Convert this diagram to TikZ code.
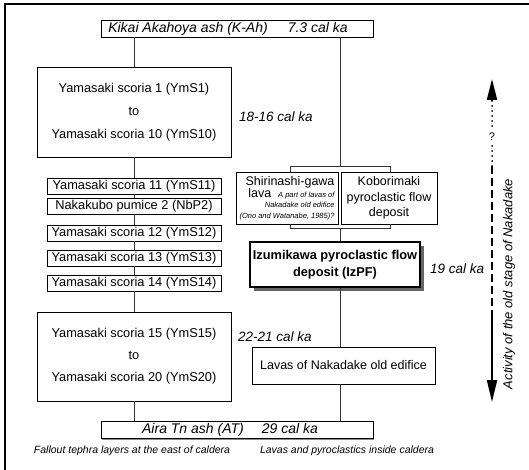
\documentclass[tikz,border=0pt]{standalone}
\usepackage{fontspec}
\setmainfont{Liberation Sans}
\usetikzlibrary{arrows.meta,shadows,calc}
\newcommand\smallnotefont{\fontsize{7.5}{9}\selectfont\itshape}
\tikzset{
  box/.style={draw, line width=0.8pt, fill=white, inner sep=0pt, align=center,
    font=\fontsize{12.5}{15}\selectfont,
    drop shadow={shadow xshift=1.3pt, shadow yshift=-1.3pt, fill=black!45, opacity=1}},
  ashbox/.style={box, minimum width=272pt, minimum height=17pt, font=\fontsize{14}{15}\selectfont\itshape},
  smallbox/.style={box, minimum width=174pt, minimum height=16pt, font=\fontsize{12.8}{15}\selectfont},
  bigbox/.style={box, minimum width=194pt, minimum height=90pt, font=\fontsize{12.8}{15}\selectfont},
  agelabel/.style={anchor=west, inner sep=0pt, font=\fontsize{13.5}{15}\selectfont\itshape},
  caption/.style={inner sep=0pt, font=\fontsize{10.5}{12}\selectfont\itshape},
  link/.style={line width=0.8pt, black!80},
  actline/.style={line width=2pt},
}
\begin{document}
\begin{tikzpicture}[x=1pt,y=-1pt]
\useasboundingbox (0,0) rectangle (529,470);
\fill[white] (0,0) rectangle (529,470);
% frame (left and top edges visible)
\draw[line width=2.6pt] (5,472) -- (5,4) -- (531,4);

% ash layers
\node[ashbox] (kah) at (237,28.5) {\hspace*{-1pt}Kikai Akahoya ash (K-Ah)\hspace{20pt}7.3 cal ka\hspace*{17pt}};
\node[ashbox] (aira) at (237,430) {Aira Tn ash (AT)\hspace{18pt}29 cal ka\hspace*{14pt}};

% left column
\node[bigbox] (ymA) at (134,112) {Yamasaki scoria 1 (YmS1)\\[8pt]to\\[8pt]Yamasaki scoria 10 (YmS10)};
\node[smallbox] (ym11) at (134,186) {Yamasaki scoria 11 (YmS11)};
\node[smallbox] (nb2) at (134,206) {Nakakubo pumice 2 (NbP2)};
\node[smallbox] (ym12) at (134,233) {Yamasaki scoria 12 (YmS12)};
\node[smallbox] (ym13) at (134,258) {Yamasaki scoria 13 (YmS13)};
\node[smallbox] (ym14) at (134,283) {Yamasaki scoria 14 (YmS14)};
\node[bigbox, minimum height=89pt] (ymB) at (134,356.5) {Yamasaki scoria 15 (YmS15)\\[7pt]to\\[7pt]Yamasaki scoria 20 (YmS20)};

\node[agelabel] (ageA) at (239,117) {18-16 cal ka};
\node[agelabel] (ageB) at (238,337) {22-21 cal ka};

\draw[link] (kah.south -| ymA.north) -- (ymA.north);
\draw[link] (ymA.south) -- (ym11.north);
\draw[link] (ym11.south) -- (nb2.north);
\draw[link] (nb2.south) -- (ym12.north);
\draw[link] (ym12.south) -- (ym13.north);
\draw[link] (ym13.south) -- (ym14.north);
\draw[link] (ym14.south) -- (ymB.north);
\draw[link] (ymB.south) -- (aira.north -| ymB.south);

% right column
\node[box, minimum width=102pt, minimum height=52pt, align=right, inner xsep=3pt,
      font=\fontsize{12.5}{12.5}\selectfont] (shi) at (287,198)
  {Shirinashi-gawa\\[-0.5pt]lava\ \ {\smallnotefont A part of lavas of}\\[-2pt]
   {\smallnotefont Nakadake old edifice}\\[-2pt]
   {\smallnotefont (Ono and Watanabe, 1985)?}};
\node[box, minimum width=96pt, minimum height=52pt, font=\fontsize{12.5}{15.5}\selectfont] (kob) at (389,198)
  {Koborimaki\\pyroclastic flow\\deposit};
\node[box, line width=2pt, minimum width=170pt, minimum height=45pt,
      font=\fontsize{12.8}{17}\selectfont\bfseries,
      drop shadow={shadow xshift=4pt, shadow yshift=-4pt, fill=black!60, opacity=1}] (izu) at (335,264.5)
  {Izumikawa pyroclastic flow\\deposit (IzPF)};
\node[agelabel] (ageC) at (430,269) {19 cal ka};
\node[box, minimum width=183pt, minimum height=37pt] (lav) at (343.5,365.5) {Lavas of Nakadake old edifice};

\coordinate (tl) at (290,166);
\coordinate (tr) at (390,166);
\coordinate (tc) at (340,166);
\coordinate (bl) at (290,228);
\coordinate (br) at (390,228);
\coordinate (bc) at (340,228);
\draw[link] (kah.south -| tc) -- (tc);
\draw[link] (shi.north -| tl) -- (tl) -- (tr) -- (kob.north -| tr);
\draw[link] (shi.south -| bl) -- (bl) -- (br) -- (kob.south -| br);
\draw[link] (bc) -- (izu.north -| bc);
\draw[link] (izu.south -| bc) -- (lav.north -| bc);
\draw[link] (lav.south -| bc) -- (aira.north -| bc);

% captions
\node[caption] (capL) at (132,451) {Fallout tephra layers at the east of caldera};
\node[caption] (capR) at (347,451) {Lavas and pyroclastics inside caldera};

% activity arrow
\coordinate (aTop) at (492,79);
\coordinate (aDot) at (492,101);
\coordinate (aQa) at (492,129);
\node[inner sep=0pt, font=\fontsize{11}{12}\selectfont] (q) at (492,137) {?};
\coordinate (aQb) at (492,146);
\coordinate (aDash) at (492,166);
\coordinate (aSolid) at (492,310);
\coordinate (aBot) at (492,402);
\draw[actline, -{Triangle[length=21pt,width=10pt]}] (aDot) -- (aTop);
\draw[actline, line cap=round, dash pattern=on 0pt off 5pt] (aDot) -- (aQa);
\draw[actline, line cap=round, dash pattern=on 0pt off 5pt] (aQb) -- (aDash);
\draw[actline, dash pattern=on 8pt off 4pt] (aDash) -- (aSolid);
\draw[actline, -{Triangle[length=22pt,width=10pt]}] (aSolid) -- (aBot);
\node[rotate=90, inner sep=0pt, font=\fontsize{13}{15}\selectfont\itshape] (act) at (509,284)
  {Activity of the old stage of Nakadake};
\end{tikzpicture}
\end{document}
